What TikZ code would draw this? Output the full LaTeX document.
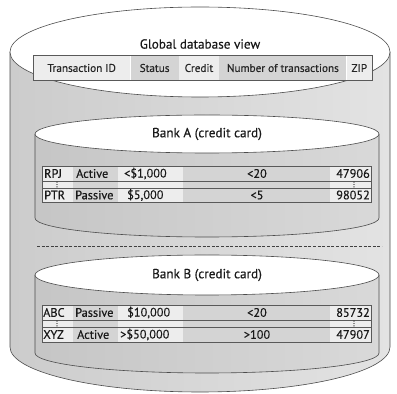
\documentclass[tikz,border=0pt]{standalone}
\usepackage{fontspec}
\setmainfont{PT Sans}[FakeBold=0.35]
\newfontfamily\symfont{DejaVu Sans}[FakeBold=1.5]
\usetikzlibrary{positioning}
\tikzstyle{title} = [text centered, inner sep=0pt, font=\fontsize{13.2}{15}\selectfont, text=black!90]
\tikzstyle{hcell} = [inner sep=0pt, minimum height=24pt, font=\fontsize{11.2}{13}\selectfont, text=black!85]
\tikzstyle{cell} = [inner sep=0pt, font=\fontsize{12.3}{14}\selectfont, text=black!90]
\tikzstyle{dots} = [inner sep=0pt, font=\symfont\fontsize{7}{7}\selectfont, text=black!85]
\tikzstyle{light} = [fill=gray!14]
\tikzstyle{dark} = [fill=gray!34]
\tikzstyle{outerbody} = [left color=gray!40, right color=gray!22]
\tikzstyle{innerbody} = [left color=gray!45, right color=gray!30]
\tikzstyle{rim} = [draw=black!70, line width=0.6pt]
\tikzstyle{lid} = [draw=black!70, line width=0.6pt, fill=white]
\tikzstyle{frame} = [draw=black!65, line width=0.7pt]

\begin{document}
\begin{tikzpicture}[x=1pt, y=1pt]
\useasboundingbox (0,0) rectangle (397,394);
% outer cylinder
\path[outerbody] (10,342) -- (10,47) arc (180:360:190pt and 45pt) -- (390,342) -- cycle;
\draw[rim] (10,342) -- (10,47) arc (180:360:190pt and 45pt) -- (390,342);
\filldraw[lid] (200,342) ellipse (190pt and 45pt);

\node (global) [title] at (200,350) {Global database view};
\node (tid) [hcell, light, minimum width=97pt, anchor=west] at (33,326) {Transaction ID};
\node (status) [hcell, dark, minimum width=48pt, right=0pt of tid] {Status};
\node (credit) [hcell, light, minimum width=40pt, right=0pt of status] {Credit};
\node (ntrans) [hcell, dark, minimum width=127pt, right=0pt of credit] {Number of transactions};
\node (zip) [hcell, light, minimum width=25pt, right=0pt of ntrans] {ZIP};
\draw[frame] (tid.north west) rectangle (zip.south east);

% bank A
\path[innerbody] (35,260) -- (35,176) arc (180:360:172pt and 19pt) -- (379,260) -- cycle;
\draw[rim] (35,260) -- (35,176) arc (180:360:172pt and 19pt) -- (379,260);
\filldraw[lid] (207,260) ellipse (172pt and 19pt);
\node (banka) [title] at (207,260) {Bank A (credit card)};

\foreach \xa/\xb/\tone in {42/73/light, 73/118/dark, 118/183/light, 183/330/dark, 330/371/light}
  \path[\tone] (\xa,192) rectangle (\xb,228);
\draw[frame] (42,213) -- (371,213) (42,206) -- (371,206);
\draw[frame] (42,192) rectangle (371,228);

\node (rpj) [cell, anchor=west] at (44,220.5) {RPJ};
\node (acta) [cell, anchor=west] at (76,220.5) {Active};
\node (creda) [cell, anchor=west] at (124,220.5) {<\$1,000};
\node (numa) [cell] at (257,220.5) {<20};
\node (zipa) [cell, anchor=east] at (370,220.5) {47906};
\node (dota) [dots] at (57,209.5) {⋮};
\node (dotb) [dots] at (354,209.5) {⋮};
\node (ptr) [cell, anchor=west] at (44,199) {PTR};
\node (pasa) [cell, anchor=west] at (75,199) {Passive};
\node (credb) [cell, anchor=west] at (127,199) {\$5,000};
\node (numb) [cell] at (257,199) {<5};
\node (zipb) [cell, anchor=east] at (370,199) {98052};

\draw[dashed, dash pattern=on 3pt off 1.6pt, line width=1pt, black!75] (37,147) -- (382,147);

% bank B
\path[innerbody] (35,119) -- (35,41) arc (180:360:172pt and 20pt) -- (379,119) -- cycle;
\draw[rim] (35,119) -- (35,41) arc (180:360:172pt and 20pt) -- (379,119);
\filldraw[lid] (207,119) ellipse (172pt and 20pt);
\node (bankb) [title] at (207,119) {Bank B (credit card)};

\foreach \xa/\xb/\tone in {42/73/light, 73/118/dark, 118/183/light, 183/330/dark, 330/371/light}
  \path[\tone] (\xa,52) rectangle (\xb,89);
\draw[frame] (42,74) -- (371,74) (42,67) -- (371,67);
\draw[frame] (42,52) rectangle (371,89);

\node (abc) [cell, anchor=west] at (43,81.5) {ABC};
\node (pasb) [cell, anchor=west] at (75,81.5) {Passive};
\node (credc) [cell, anchor=west] at (127,81.5) {\$10,000};
\node (numc) [cell] at (257,81.5) {<20};
\node (zipc) [cell, anchor=east] at (370,81.5) {85732};
\node (dotc) [dots] at (57,70.5) {⋮};
\node (dotd) [dots] at (354,70.5) {⋮};
\node (xyz) [cell, anchor=west] at (43,59.5) {XYZ};
\node (actb) [cell, anchor=west] at (77,59.5) {Active};
\node (credd) [cell, anchor=west] at (120,59.5) {>\$50,000};
\node (numd) [cell] at (257,59.5) {>100};
\node (zipd) [cell, anchor=east] at (370,59.5) {47907};
\end{tikzpicture}
\end{document}
